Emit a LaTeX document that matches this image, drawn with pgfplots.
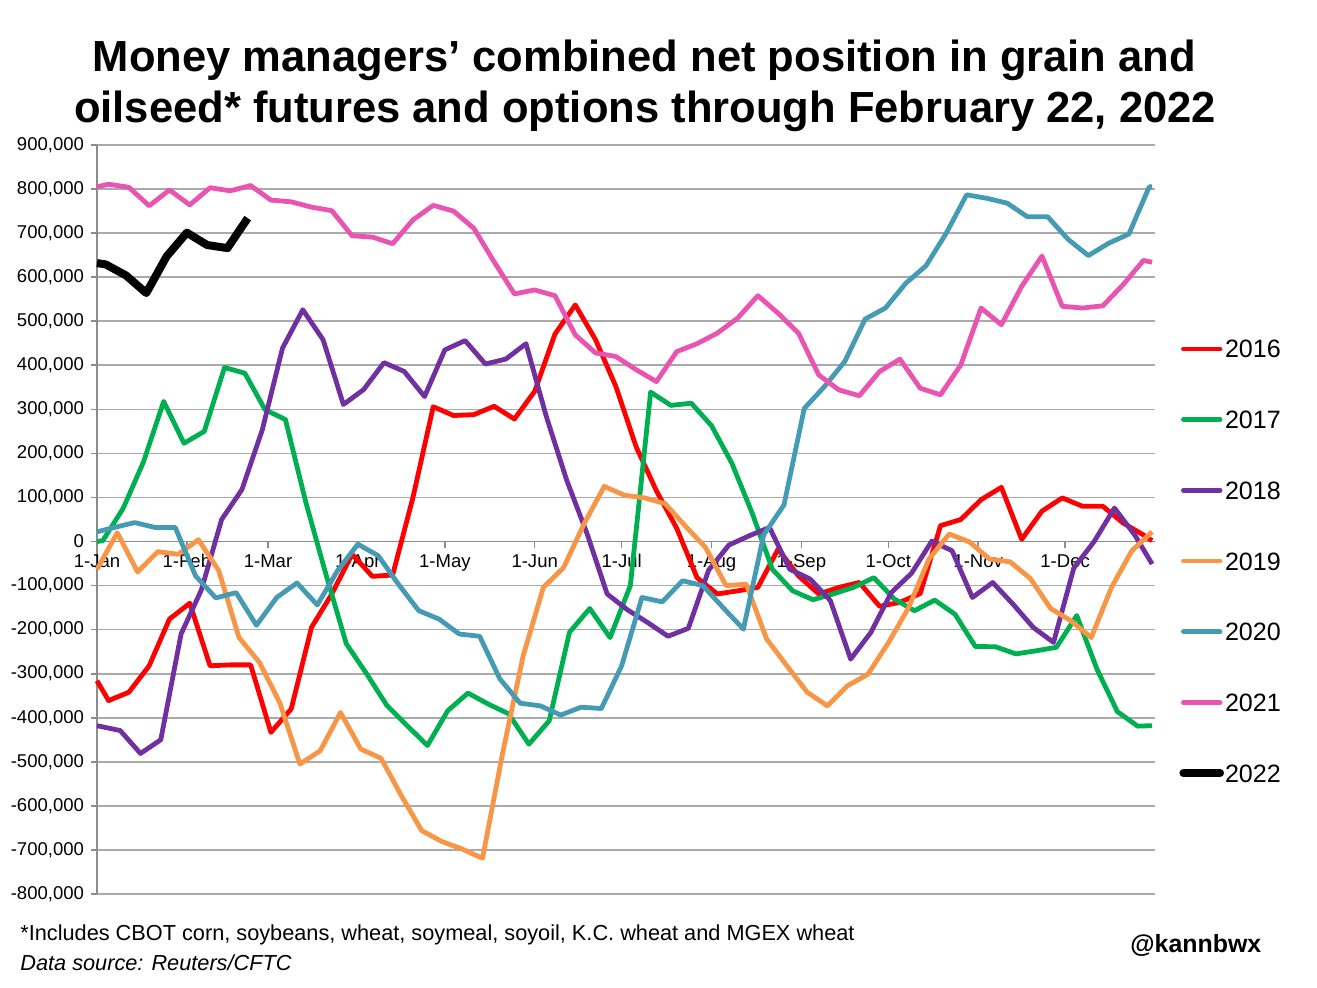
\documentclass[border=0pt]{standalone}
\usepackage{fontspec}
\setmainfont{Liberation Sans}
\usepackage{pgfplots}
\pgfplotsset{compat=1.18}
\definecolor{c16}{RGB}{255,0,0}
\definecolor{c17}{RGB}{0,176,80}
\definecolor{c18}{RGB}{112,48,160}
\definecolor{c19}{RGB}{247,150,70}
\definecolor{c20}{RGB}{70,155,180}
\definecolor{c21}{RGB}{233,84,178}
\definecolor{gridgray}{RGB}{170,170,170}
\definecolor{axisgray}{RGB}{140,140,140}

\begin{document}
\begin{tikzpicture}
\path[use as bounding box] (0,0) rectangle (658.5bp,494bp);

% title and notes
\node[anchor=base, font=\bfseries\fontsize{21.85}{26}\selectfont, inner sep=0pt]
  at (322.25bp,458bp) {Money managers’ combined net position in grain and};
\node[anchor=base, font=\bfseries\fontsize{21.85}{26}\selectfont, inner sep=0pt]
  at (322.5bp,432.5bp) {oilseed* futures and options through February 22, 2022};
\node[anchor=base west, font=\fontsize{10.9}{13}\selectfont, inner sep=0pt]
  at (10bp,24bp) {*Includes CBOT corn, soybeans, wheat, soymeal, soyoil, K.C. wheat and MGEX wheat};
\node[anchor=base west, font=\itshape\fontsize{10.9}{13}\selectfont, inner sep=0pt]
  at (10bp,9bp) {Data source: Reuters/CFTC};
\node[anchor=base west, font=\bfseries\fontsize{12.5}{15}\selectfont, inner sep=0pt]
  at (565bp,18bp) {@kannbwx};

\begin{axis}[
  at={(48.5bp,47bp)}, anchor=south west,
  scale only axis, width=529bp, height=374.5bp,
  xmin=0, xmax=365, ymin=-800000, ymax=900000,
  clip=false,
  axis x line=middle, axis y line=left,
  axis line style={-, draw=axisgray, line width=0.8bp},
  hide obscured x ticks=false, hide obscured y ticks=false,
  xtick={0,31,59,90,120,151,181,212,243,273,304,334},
  xticklabels={1-Jan,1-Feb,1-Mar,1-Apr,1-May,1-Jun,1-Jul,1-Aug,1-Sep,1-Oct,1-Nov,1-Dec},
  ytick={-800000,-700000,-600000,-500000,-400000,-300000,-200000,-100000,0,
         100000,200000,300000,400000,500000,600000,700000,800000,900000},
  ymajorgrids, grid style={gridgray, line width=0.8bp},
  tick align=outside, major tick length=3bp,
  tick style={axisgray, line width=0.8bp},
  scaled y ticks=false,
  yticklabel style={/pgf/number format/.cd, fixed, 1000 sep={,}, assume math mode=true},
  ticklabel style={font=\fontsize{9.3}{11}\selectfont},
  legend style={at={(axis description cs:1.0227,0.4446)}, anchor=west,
    draw=none, fill=none, inner sep=0pt, font=\fontsize{12.6}{15}\selectfont,
    row sep=25.35bp,
    nodes={inner sep=0.5bp, text height=9bp, text depth=0pt}},
  legend cell align=left,
  legend image code/.code={\draw[#1, line cap=round] (0bp,0bp) -- (18.3bp,0bp);},
  every axis plot/.append style={line width=2.4bp, line join=round},
]
\addplot[c16] coordinates {
(0,-316000) (4,-361000) (11,-342000) (18,-282000) (25,-176000) (32,-140000) (39,-282000)
(46,-280000) (53,-280000) (60,-433000) (67,-380000) (74,-195000) (81,-119000) (88,-29000)
(95,-79000) (102,-76000) (109,100000) (116,306000) (123,286000) (130,288000) (137,307000)
(144,278000) (151,341000) (158,471000) (165,537000) (172,458000) (179,352000) (186,215000)
(193,115000) (200,30000) (207,-82000) (214,-119000) (221,-112000) (228,-104000) (235,-17000)
(242,-78000) (249,-119000) (256,-104000) (263,-93000) (270,-147000) (277,-138000)
(284,-118000) (291,36000) (298,50000) (305,95000) (312,123000) (319,5000) (326,69000)
(333,99000) (340,80000) (347,80000) (354,42000) (361,15000) (364,2000)};
\addlegendentry{2016}
\addplot[c17] coordinates {
(0,0) (2,2000) (9,75000) (16,180000) (23,318000) (30,223000) (37,250000) (44,395000)
(51,382000) (58,299000) (65,277000) (72,90000) (79,-75000) (86,-232000) (93,-300000)
(100,-372000) (107,-418000) (114,-463000) (121,-384000) (128,-344000) (135,-369000)
(142,-391000) (149,-460000) (156,-407000) (163,-206000) (170,-152000) (177,-218000)
(184,-100000) (191,339000) (198,309000) (205,314000) (212,263000) (219,178000) (226,65000)
(233,-63000) (240,-112000) (247,-132000) (254,-119000) (261,-104000) (268,-82000)
(275,-130000) (282,-157000) (289,-133000) (296,-165000) (303,-238000) (310,-239000)
(317,-255000) (324,-248000) (331,-240000) (338,-168000) (345,-290000) (352,-386000)
(359,-419000) (364,-418000)};
\addlegendentry{2017}
\addplot[c18] coordinates {
(0,-418000) (8,-429000) (15,-481000) (22,-450000) (29,-210000) (36,-110000) (43,50000)
(50,118000) (57,253000) (64,439000) (71,526000) (78,458000) (85,311000) (92,345000)
(99,406000) (106,386000) (113,329000) (120,435000) (127,456000) (134,403000) (141,414000)
(148,449000) (155,284000) (162,140000) (169,19000) (176,-119000) (183,-155000)
(190,-184000) (197,-215000) (204,-197000) (211,-65000) (218,-8000) (225,13000) (232,32000)
(239,-63000) (246,-85000) (253,-134000) (260,-267000) (267,-206000) (274,-116000)
(281,-72000) (288,1000) (295,-21000) (302,-127000) (309,-93000) (316,-142000)
(323,-195000) (330,-229000) (337,-60000) (344,0) (351,76000) (358,15000) (364,-51000)};
\addlegendentry{2018}
\addplot[c19] coordinates {
(0,-63000) (7,20000) (14,-69000) (21,-23000) (28,-29000) (35,4000) (42,-66000)
(49,-218000) (56,-274000) (63,-365000) (70,-505000) (77,-475000) (84,-388000)
(91,-471000) (98,-492000) (105,-577000) (112,-656000) (119,-681000) (126,-698000)
(133,-719000) (140,-478000) (147,-260000) (154,-104000) (161,-59000) (168,40000)
(175,125000) (182,105000) (189,99000) (196,86000) (203,35000) (210,-14000) (217,-100000)
(224,-97000) (231,-221000) (238,-282000) (245,-342000) (252,-373000) (259,-327000)
(266,-301000) (273,-230000) (280,-150000) (287,-40000) (294,17000) (301,-1000)
(308,-40000) (315,-46000) (322,-84000) (329,-152000) (336,-180000) (343,-218000)
(350,-104000) (357,-21000) (364,22000)};
\addlegendentry{2019}
\addplot[c20] coordinates {
(0,22000) (6,32000) (13,43000) (20,32000) (27,32000) (34,-78000) (41,-128000)
(48,-116000) (55,-190000) (62,-127000) (69,-94000) (76,-144000) (83,-66000) (90,-6000)
(97,-32000) (104,-97000) (111,-157000) (118,-176000) (125,-210000) (132,-215000)
(139,-312000) (146,-367000) (153,-373000) (160,-394000) (167,-376000) (174,-379000)
(181,-282000) (188,-127000) (195,-137000) (202,-89000) (209,-100000) (216,-150000)
(223,-199000) (230,15000) (237,83000) (244,302000) (251,352000) (258,409000) (265,505000)
(272,530000) (279,586000) (286,626000) (293,700000) (300,787000) (307,779000)
(314,768000) (321,737000) (328,737000) (335,686000) (342,649000) (349,677000)
(356,698000) (363,805000) (364,805000)};
\addlegendentry{2020}
\addplot[c21] coordinates {
(0,805000) (4,811000) (11,804000) (18,762000) (25,798000) (32,764000) (39,803000)
(46,796000) (53,808000) (60,775000) (67,771000) (74,759000) (81,751000) (88,694000)
(95,691000) (102,676000) (109,730000) (116,763000) (123,750000) (130,711000) (137,635000)
(144,562000) (151,571000) (158,558000) (165,469000) (172,428000) (179,420000) (186,390000)
(193,363000) (200,431000) (207,449000) (214,473000) (221,507000) (228,558000) (235,518000)
(242,473000) (249,378000) (256,344000) (263,331000) (270,386000) (277,414000) (284,348000)
(291,333000) (298,401000) (305,530000) (312,492000) (319,579000) (326,648000) (333,534000)
(340,530000) (347,535000) (354,583000) (361,638000) (364,634000)};
\addlegendentry{2021}
\addplot[black, line width=4bp] coordinates {
(0,632000) (3,629000) (10,604000) (17,564000) (24,647000) (31,701000) (38,673000)
(45,666000) (52,734000)};
\addlegendentry{2022}
\end{axis}
\end{tikzpicture}
\end{document}
